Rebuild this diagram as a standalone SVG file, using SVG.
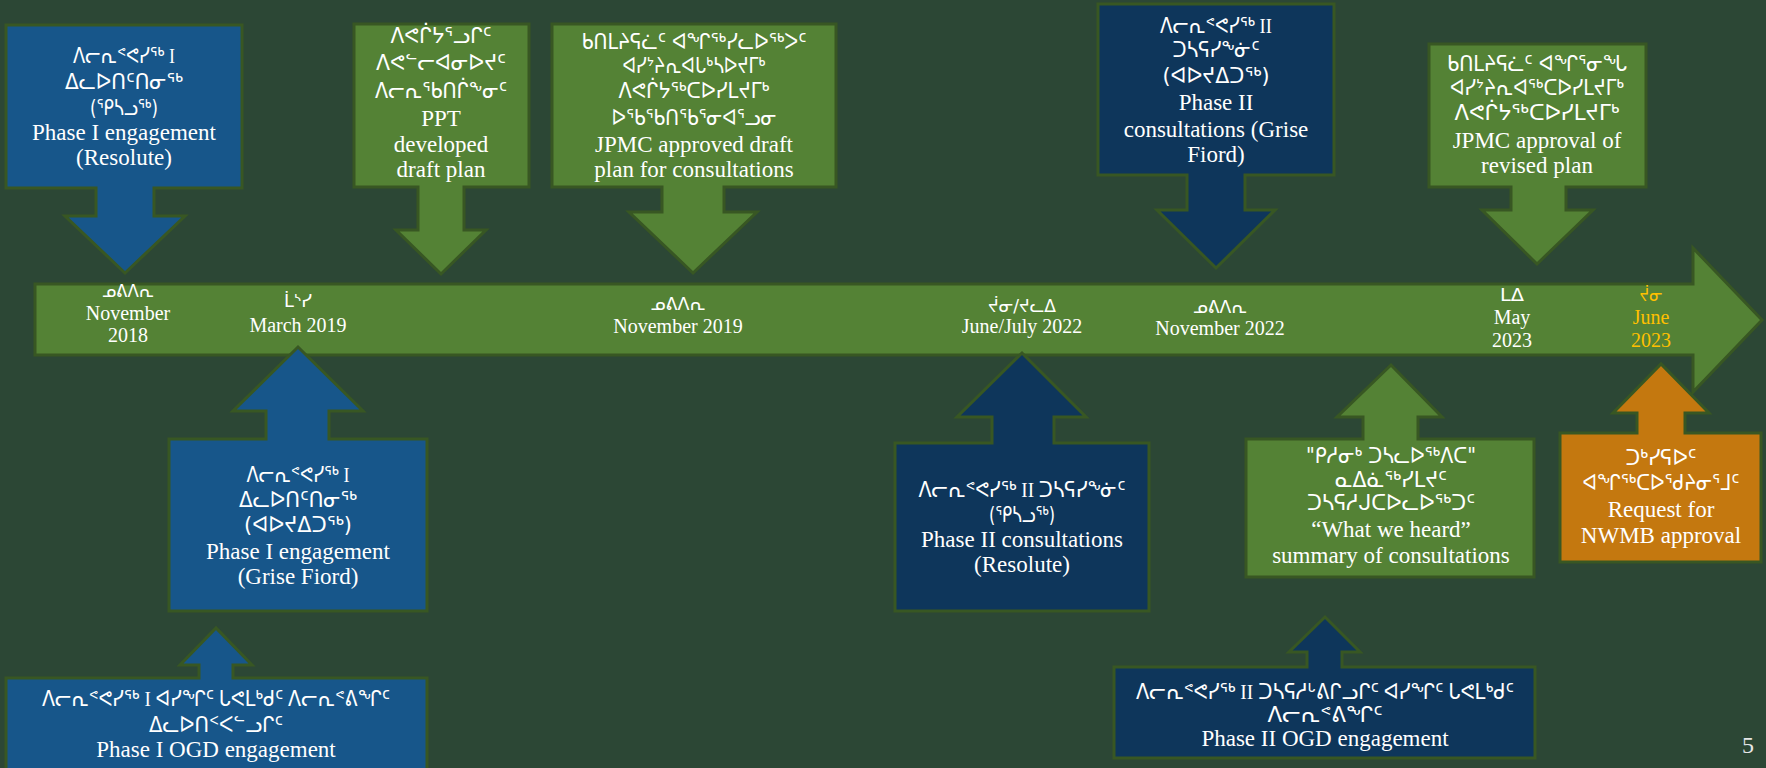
<svg xmlns="http://www.w3.org/2000/svg" width="1766" height="768" viewBox="0 0 1766 768">
<style>
.sh{stroke:#385723;stroke-width:3;stroke-linejoin:miter}
.blue{fill:#17568A}
.navy{fill:#0E365B}
.green{fill:#548235}
.orange{fill:#C4780F}
.t{font-family:"Liberation Serif","Times New Roman",serif;font-size:23px;fill:#FFFFFF;text-anchor:middle}
.s{font-family:"DejaVu Sans","Noto Sans",sans-serif;font-size:21px;fill:#FFFFFF;text-anchor:middle}
.sm{font-family:"Liberation Serif","DejaVu Sans",sans-serif;font-size:21px;fill:#FFFFFF;text-anchor:middle}
.d{font-family:"Liberation Serif","Times New Roman",serif;font-size:20px;fill:#FFFFFF;text-anchor:middle}
.ds{font-family:"DejaVu Sans","Noto Sans",sans-serif;font-size:18px;fill:#FFFFFF;text-anchor:middle}
.gold{fill:#FFC000}
</style>
<rect x="0" y="0" width="1766" height="768" fill="#2C4735"/>

<g id="timeline">
<path class="sh green" d="M35,284 H1693 V248 L1762,320 L1693,392 V355 H35 Z"/>
<text class="ds" x="128" y="297" textLength="52" lengthAdjust="spacingAndGlyphs">ᓄᕕᐱᕆ</text>
<text class="d" x="128" y="320">November</text>
<text class="d" x="128" y="342">2018</text>
<text class="ds" x="298" y="307" textLength="28" lengthAdjust="spacingAndGlyphs">ᒫᔅᓯ</text>
<text class="d" x="298" y="332">March 2019</text>
<text class="ds" x="678" y="310" textLength="55" lengthAdjust="spacingAndGlyphs">ᓄᕕᐱᕆ</text>
<text class="d" x="678" y="333">November 2019</text>
<text class="ds" x="1022" y="312" textLength="68" lengthAdjust="spacingAndGlyphs">ᔫᓂ/ᔪᓚᐃ</text>
<text class="d" x="1022" y="333">June/July 2022</text>
<text class="ds" x="1220" y="313" textLength="54" lengthAdjust="spacingAndGlyphs">ᓄᕕᐱᕆ</text>
<text class="d" x="1220" y="335">November 2022</text>
<text class="ds" x="1512" y="301" textLength="24" lengthAdjust="spacingAndGlyphs">ᒪᐃ</text>
<text class="d" x="1512" y="324">May</text>
<text class="d" x="1512" y="347">2023</text>
<text class="ds gold" x="1651" y="301" textLength="23" lengthAdjust="spacingAndGlyphs">ᔫᓂ</text>
<text class="d gold" x="1651" y="324">June</text>
<text class="d gold" x="1651" y="347">2023</text>
</g>

<g id="connectors"></g>

<g id="n1">
<path class="sh blue" d="M6,25 H242 V188 H154 V216 H185 L125,273 L65,216 H96 V188 H6 Z"/>
<text class="sm" x="124" y="63" textLength="102" lengthAdjust="spacingAndGlyphs">ᐱᓕᕆᕝᕙᓯᖅ I</text>
<text class="s" x="124" y="89" textLength="118" lengthAdjust="spacingAndGlyphs">ᐃᓚᐅᑎᑦᑎᓂᖅ</text>
<text class="s" x="124" y="115" textLength="68" lengthAdjust="spacingAndGlyphs">(ᕿᓴᓗᖅ)</text>
<text class="t" x="124" y="140">Phase I engagement</text>
<text class="t" x="124" y="165">(Resolute)</text>
</g>

<g id="n2">
<path class="sh green" d="M354,24 H529 V187 H464 V230 H486 L441,274 L396,230 H418 V187 H354 Z"/>
<text class="s" x="441" y="43" textLength="101" lengthAdjust="spacingAndGlyphs">ᐱᕙᒌᔭᕐᓗᒋᑦ</text>
<text class="s" x="441" y="70" textLength="130" lengthAdjust="spacingAndGlyphs">ᐱᕙᓪᓕᐊᓂᐅᔪᑦ</text>
<text class="s" x="441" y="98" textLength="132" lengthAdjust="spacingAndGlyphs">ᐱᓕᕆᖃᑎᒌᖕᓂᑦ</text>
<text class="t" x="441" y="126">PPT</text>
<text class="t" x="441" y="152">developed</text>
<text class="t" x="441" y="177">draft plan</text>
</g>

<g id="n3">
<path class="sh green" d="M552,24 H836 V187 H724 V212 H757 L693,273 L629,212 H662 V187 H552 Z"/>
<text class="s" x="694" y="49" textLength="225" lengthAdjust="spacingAndGlyphs">ᑲᑎᒪᔨᕋᓛᑦ ᐊᖏᖅᓯᓚᐅᖅᐳᑦ</text>
<text class="s" x="694" y="73" textLength="143" lengthAdjust="spacingAndGlyphs">ᐊᓯᔾᔨᕆᐊᒐᒃᓴᐅᔪᒥᒃ</text>
<text class="s" x="694" y="98" textLength="151" lengthAdjust="spacingAndGlyphs">ᐱᕙᒌᔭᖅᑕᐅᓯᒪᔪᒥᒃ</text>
<text class="s" x="694" y="125" textLength="165" lengthAdjust="spacingAndGlyphs">ᐅᖃᖃᑎᖃᕐᓂᐊᕐᓗᓂ</text>
<text class="t" x="694" y="152">JPMC approved draft</text>
<text class="t" x="694" y="177">plan for consultations</text>
</g>

<g id="n4">
<path class="sh navy" d="M1098,4 H1334 V175 H1245 V210 H1275 L1216,268 L1157,210 H1187 V175 H1098 Z"/>
<text class="sm" x="1216" y="33" textLength="112" lengthAdjust="spacingAndGlyphs">ᐱᓕᕆᕝᕙᓯᖅ II</text>
<text class="s" x="1216" y="57" textLength="87" lengthAdjust="spacingAndGlyphs">ᑐᓴᕋᓯᖕᓃᑦ</text>
<text class="s" x="1216" y="83" textLength="107" lengthAdjust="spacingAndGlyphs">(ᐊᐅᔪᐃᑐᖅ)</text>
<text class="t" x="1216" y="110">Phase II</text>
<text class="t" x="1216" y="137">consultations (Grise</text>
<text class="t" x="1216" y="162">Fiord)</text>
</g>

<g id="n5">
<path class="sh green" d="M1429,44 H1646 V187 H1566 V210 H1593 L1537,264 L1482,210 H1511 V187 H1429 Z"/>
<text class="s" x="1537" y="71" textLength="180" lengthAdjust="spacingAndGlyphs">ᑲᑎᒪᔨᕋᓛᑦ ᐊᖏᕐᓂᖓ</text>
<text class="s" x="1537" y="95" textLength="174" lengthAdjust="spacingAndGlyphs">ᐊᓯᔾᔨᕆᐊᖅᑕᐅᓯᒪᔪᒥᒃ</text>
<text class="s" x="1537" y="120" textLength="165" lengthAdjust="spacingAndGlyphs">ᐱᕙᒌᔭᖅᑕᐅᓯᒪᔪᒥᒃ</text>
<text class="t" x="1537" y="148">JPMC approval of</text>
<text class="t" x="1537" y="173">revised plan</text>
</g>

<g id="n6">
<path class="sh blue" d="M169,439 H266 V411 H233 L298,347 L363,411 H329 V439 H427 V611 H169 Z"/>
<text class="sm" x="298" y="482" textLength="103" lengthAdjust="spacingAndGlyphs">ᐱᓕᕆᕝᕙᓯᖅ I</text>
<text class="s" x="298" y="507" textLength="118" lengthAdjust="spacingAndGlyphs">ᐃᓚᐅᑎᑦᑎᓂᖅ</text>
<text class="s" x="298" y="532" textLength="108" lengthAdjust="spacingAndGlyphs">(ᐊᐅᔪᐃᑐᖅ)</text>
<text class="t" x="298" y="559">Phase I engagement</text>
<text class="t" x="298" y="584">(Grise Fiord)</text>
</g>

<g id="n7">
<path class="sh blue" d="M6,678 H199 V665 H180 L216,628 L252,665 H233 V678 H427 V772 H6 Z"/>
<text class="sm" x="216" y="706" textLength="348" lengthAdjust="spacingAndGlyphs">ᐱᓕᕆᕝᕙᓯᖅ I ᐊᓯᖏᑦ ᒐᕙᒪᒃᑯᑦ ᐱᓕᕆᕝᕕᖏᑦ</text>
<text class="s" x="216" y="732" textLength="134" lengthAdjust="spacingAndGlyphs">ᐃᓚᐅᑎᑉᐸᓪᓗᒋᑦ</text>
<text class="t" x="216" y="757">Phase I OGD engagement</text>
</g>

<g id="n8">
<path class="sh navy" d="M895,443 H992 V417 H957 L1022,353 L1086,417 H1054 V443 H1149 V611 H895 Z"/>
<text class="sm" x="1022" y="497" textLength="207" lengthAdjust="spacingAndGlyphs">ᐱᓕᕆᕝᕙᓯᖅ II ᑐᓴᕋᓯᖕᓃᑦ</text>
<text class="s" x="1022" y="522" textLength="66" lengthAdjust="spacingAndGlyphs">(ᕿᓴᓗᖅ)</text>
<text class="t" x="1022" y="547">Phase II consultations</text>
<text class="t" x="1022" y="572">(Resolute)</text>
</g>

<g id="n9">
<path class="sh green" d="M1246,439 H1363 V417 H1337 L1391,365 L1442,417 H1418 V439 H1534 V577 H1246 Z"/>
<text class="s" x="1391" y="463" textLength="170" lengthAdjust="spacingAndGlyphs">"ᑭᓱᓂᒃ ᑐᓴᓚᐅᖅᐱᑕ"</text>
<text class="s" x="1391" y="487" textLength="112" lengthAdjust="spacingAndGlyphs">ᓇᐃᓈᖅᓯᒪᔪᑦ</text>
<text class="s" x="1391" y="510" textLength="168" lengthAdjust="spacingAndGlyphs">ᑐᓴᕋᓱᒍᑕᐅᓚᐅᖅᑐᑦ</text>
<text class="t" x="1391" y="537">“What we heard”</text>
<text class="t" x="1391" y="563">summary of consultations</text>
</g>

<g id="n10">
<path class="sh navy" d="M1114,667 H1307 V652 H1289 L1325,617 L1360,652 H1342 V667 H1535 V758 H1114 Z"/>
<text class="sm" x="1325" y="699" textLength="378" lengthAdjust="spacingAndGlyphs">ᐱᓕᕆᕝᕙᓯᖅ II ᑐᓴᕋᓱᒡᕕᒋᓗᒋᑦ ᐊᓯᖏᑦ ᒐᕙᒪᒃᑯᑦ</text>
<text class="s" x="1325" y="722" textLength="115" lengthAdjust="spacingAndGlyphs">ᐱᓕᕆᕝᕕᖏᑦ</text>
<text class="t" x="1325" y="746">Phase II OGD engagement</text>
</g>

<g id="n11">
<path class="sh orange" d="M1560,433 H1637 V413 H1613 L1661,364 L1709,413 H1685 V433 H1761 V562 H1560 Z"/>
<text class="s" x="1661" y="465" textLength="71" lengthAdjust="spacingAndGlyphs">ᑐᒃᓯᕋᐅᑦ</text>
<text class="s" x="1661" y="490" textLength="157" lengthAdjust="spacingAndGlyphs">ᐊᖏᖅᑕᐅᖁᔨᓂᕐᒧᑦ</text>
<text class="t" x="1661" y="517">Request for</text>
<text class="t" x="1661" y="543">NWMB approval</text>
</g>

<text x="1748" y="753" font-family="Liberation Serif, serif" font-size="24" fill="#E6E6E6" text-anchor="middle">5</text>
</svg>
